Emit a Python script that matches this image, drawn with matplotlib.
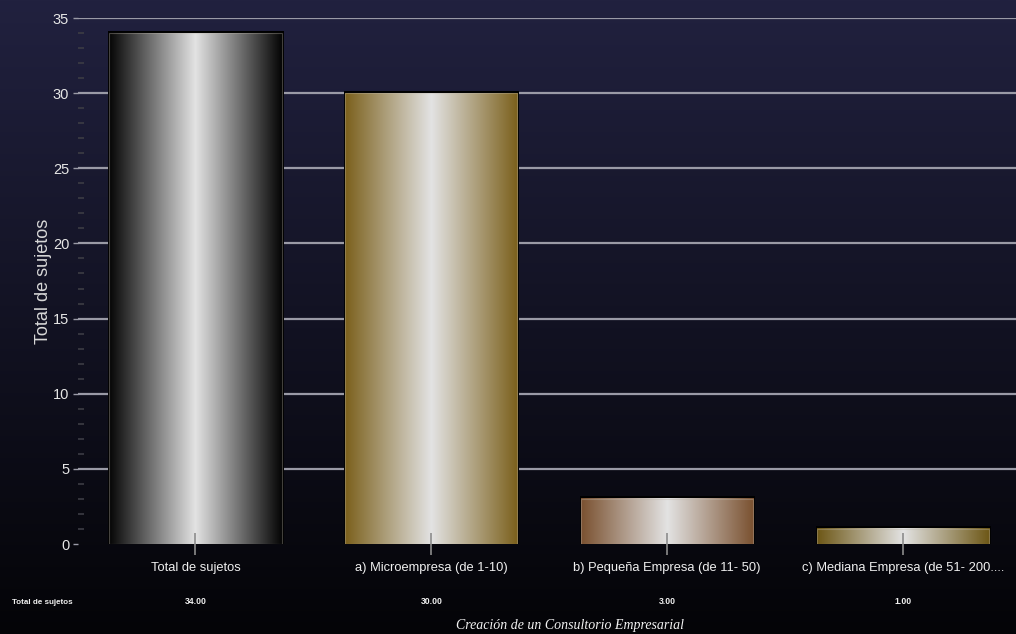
import numpy as np
import matplotlib
matplotlib.use("Agg")
import matplotlib.pyplot as plt
from matplotlib.colors import LinearSegmentedColormap, to_rgb
from matplotlib.patches import Rectangle

# Chart data
categories = [
    "Total de sujetos",
    "a) Microempresa (de 1-10)",
    "b) Pequeña Empresa (de 11- 50)",
    "c) Mediana Empresa (de 51- 200....",
]
values = [34.0, 30.0, 3.0, 1.0]
edge_colors = ["#050505", "#7b601c", "#7a5130", "#6d5716"]
center_color = "#e3e3e3"
table_row_label = "Total de sujetos"
y_label = "Total de sujetos"
footer = "Creación de un Consultorio Empresarial"
y_ticks = [0, 5, 10, 15, 20, 25, 30, 35]

SANS = ["Liberation Sans", "DejaVu Sans"]
W, H = 1016, 634

fig = plt.figure(figsize=(W / 100, H / 100), dpi=100)

# Background: vertical navy-to-black gradient over the whole figure
bg = fig.add_axes([0, 0, 1, 1], zorder=-10)
top = np.array(to_rgb("#21213f"))
bot = np.array(to_rgb("#040407"))
t = np.linspace(0, 1, 256)[:, None]
grad = top * (1 - t) + bot * t
bg.imshow(grad[:, None, :], aspect="auto", extent=[0, 1, 0, 1])
bg.set_axis_off()

# Plot area
left, right = 77.5 / W, 1021 / W
bottom, ytop = (H - 544) / H, (H - 18) / H
ax = fig.add_axes([left, bottom, right - left, ytop - bottom])
ax.set_facecolor("none")
for s in ax.spines.values():
    s.set_visible(False)

# Horizontal gridlines (drawn under the bars, axis ticks drawn above)
for yv in y_ticks[1:]:
    ax.axhline(yv, color="#9a9aa6", linewidth=1.6, zorder=0.5)
ax.set_yticks(y_ticks)
ax.set_yticks(np.arange(0, 35, 1), minor=True)
ax.tick_params(axis="y", which="major", direction="out", length=3.5, width=1,
               color="#9a9aa6", labelcolor="#e6e6e6", labelsize=10.5, pad=2.5)
ax.tick_params(axis="y", which="minor", direction="in", length=4, width=1.2,
               color="#3c3c44")
for lab in ax.get_yticklabels():
    lab.set_family(SANS)

ax.set_ylabel(y_label, color="#d8d8d8", fontsize=13, family=SANS)
ax.yaxis.label.set_va("center")
ax.yaxis.set_label_coords(-(77.5 - 44) / (W * (right - left)), 0.5)

# Bars with horizontal metallic gradient
bar_w = 0.73
xs = np.arange(len(categories))
px_x = len(categories) / (W * (right - left))   # data units per pixel (x)
px_y = 35 / (544 - 18)                          # data units per pixel (y)
for x, v, ec in zip(xs, values, edge_colors):
    x0, x1 = x - bar_w / 2, x + bar_w / 2
    # dark drop shadow behind the bar
    ax.add_patch(Rectangle((x0 - 1 * px_x, 0), bar_w + 3 * px_x, v + 2.5 * px_y,
                           facecolor="#000000", edgecolor="none", zorder=1))
    cmap = LinearSegmentedColormap.from_list("metal", [ec, center_color, ec])
    ramp = np.linspace(0, 1, 256)[None, :]
    ax.imshow(ramp, cmap=cmap, aspect="auto", extent=[x0, x1, 0, v],
              interpolation="bilinear", zorder=1.5)
    ax.add_patch(Rectangle((x0, 0), bar_w, v, facecolor="none",
                           edgecolor=(0.75, 0.72, 0.68, 0.35), linewidth=0.8,
                           zorder=2))
ax.set_xlim(-0.5, len(categories) - 0.5)
ax.set_ylim(0, 35)

# Category axis
ax.set_xticks(xs)
ax.set_xticklabels(categories, family=SANS, fontsize=9.3, color="#f0f0f0")
ax.tick_params(axis="x", direction="inout", length=16, width=1.2,
               color="#8c8c8c", pad=5)

# Data table row under the axis
row_y = 1 - 602 / H
fig.text(12 / W, row_y, table_row_label, color="#f0f0f0", fontsize=5.8,
         family=SANS, va="center", ha="left", fontweight="bold")
for x, v in zip(xs, values):
    fx = left + (x + 0.5) / len(categories) * (right - left)
    fig.text(fx, row_y, f"{v:.2f}", color="#f0f0f0", fontsize=6.2,
             family=SANS, va="center", ha="center", fontweight="bold")

fig.text(570 / W, 1 - 625 / H, footer, color="#f2f2f2", fontsize=10,
         family=["Liberation Serif", "DejaVu Serif"], style="italic",
         ha="center", va="center")

fig.savefig("out.png", dpi=100, facecolor="black")
